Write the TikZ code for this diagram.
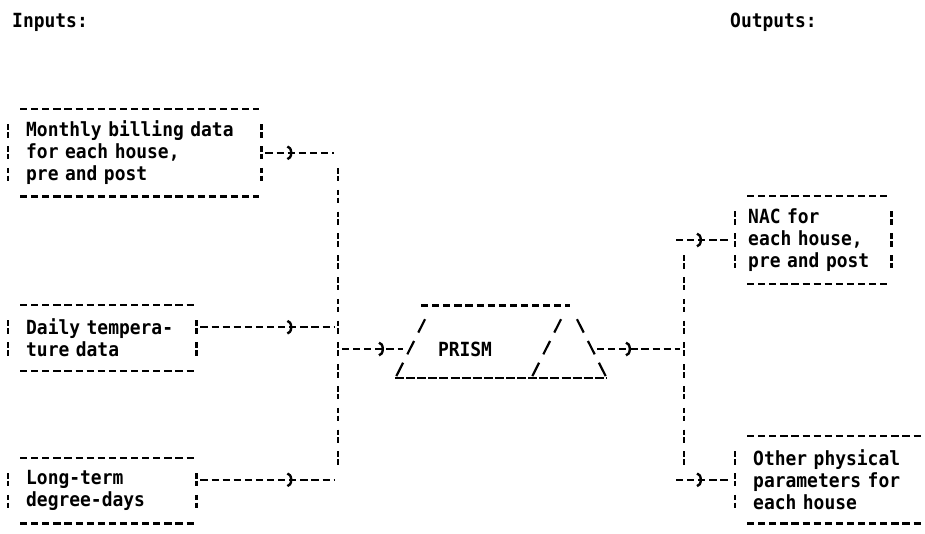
\documentclass[tikz,border=0pt]{standalone}
\usepackage{fontspec}
\usepackage{tikz}
\usetikzlibrary{arrows.meta,decorations.markings}
\newfontfamily\dotfont{DejaVu Sans Mono}[FakeStretch=0.92]

\begin{document}
\begin{tikzpicture}[x=1pt,y=-1pt,
    txt/.style={font=\dotfont\bfseries\fontsize{19.5}{21.8}\selectfont,inner sep=0pt,anchor=west},
    box/.style={txt,align=left,inner xsep=18pt,text width=#1},
    hdash/.style={line width=2.4pt,dash pattern=on 7.2pt off 3.9pt},
    vbar/.style={line width=2.2pt,dash pattern=on 5.5pt off 2.3pt on 5.5pt off 8.5pt,dash phase=17.5pt},
    slash/.style={line width=2.2pt,dash pattern=on 15pt off 9.4pt,dash phase=21.2pt},
    flow/.style={hdash,postaction={decorate,solid},
                 decoration={markings,mark=at position #1 with {\arrow{Arc Barb[length=5pt,width=15pt]}}}}
  ]
    \useasboundingbox (0,0) rectangle (925,533);
    \node[txt] (inputs) at (12,22) {Inputs:};
    \node[txt] (outputs) at (730,22) {Outputs:};
    \node[box=217pt,minimum height=87.2pt] (bill) at (8,152.8) {Monthly billing data\\for each house,\\pre and post};
    \node[box=152pt,minimum height=65.4pt] (temp) at (8,338.1) {Daily tempera-\\ture data};
    \node[box=152pt,minimum height=65.4pt] (ddays) at (8,490.7) {Long-term\\degree-days};
    \node[box=130pt,inner xsep=13pt,minimum height=87.2pt] (nac) at (735,240) {NAC for\\each house,\\pre and post};
    \node[box=152pt,minimum height=87.2pt] (other) at (735,479.8) {Other physical\\parameters for\\each house};
    \node[txt,anchor=center] (prism) at (465,349) {PRISM};
    % box outlines
    \foreach \b in {bill,temp,ddays,nac,other}{
      \draw[hdash,shorten <=12pt,shorten >=2pt] (\b.north west) -- (\b.north east);
      \draw[hdash,shorten <=12pt,shorten >=2pt] (\b.south west) -- (\b.south east);
      \draw[vbar] ([yshift=-10.9pt]\b.north west) -- ([yshift=10.9pt]\b.south west);
    }
    \foreach \b in {bill,temp,ddays,nac}
      \draw[vbar] ([yshift=-10.9pt]\b.north east) -- ([yshift=10.9pt]\b.south east);
    % prism outline
    \draw[hdash] (421,305.4) -- (570,305.4);
    \draw[slash] (426.5,316.3) -- (393.5,381.7);
    \draw[slash] (562.5,316.3) -- (529.5,381.7);
    \draw[slash] (575.5,316.3) -- (608.5,381.7);
    \draw[line width=2.2pt,dash pattern=on 9pt off 2.1pt] (395,378) -- (607,378);
    \coordinate (pin) at (403,349);
    \coordinate (pout) at (597,349);
    % collecting lines
    \coordinate (ltop) at (338,152.8);
    \coordinate (lbot) at (338,479.8);
    \coordinate (rtop) at (684,240);
    \coordinate (rbot) at (684,479.8);
    \draw[vbar] ([yshift=-10.9pt]ltop) -- ([yshift=10.9pt]lbot);
    \draw[vbar] ([yshift=-10.9pt]rtop) -- ([yshift=10.9pt]rbot);
    \draw[flow=27pt] ([xshift=4pt]bill.east) -- ([xshift=-4pt]ltop);
    \draw[flow=92pt] ([shift={(4pt,10.9pt)}]temp.east) -- ([shift={(-4pt,10.9pt)}]temp.east -| ltop);
    \draw[flow=92pt] ([shift={(4pt,10.9pt)}]ddays.east) -- ([shift={(-4pt,10.9pt)}]ddays.east -| lbot);
    \draw[flow=42pt] ([xshift=4pt]ltop |- pin) -- (pin);
    \draw[flow=34pt] (pout) -- ([xshift=-4pt]rtop |- pout);
    \draw[flow=26pt] ([xshift=-8pt]rtop) -- ([xshift=-4pt]nac.west);
    \draw[flow=26pt] ([xshift=-8pt]rbot) -- ([xshift=-4pt]other.west);
  \end{tikzpicture}
\end{document}
